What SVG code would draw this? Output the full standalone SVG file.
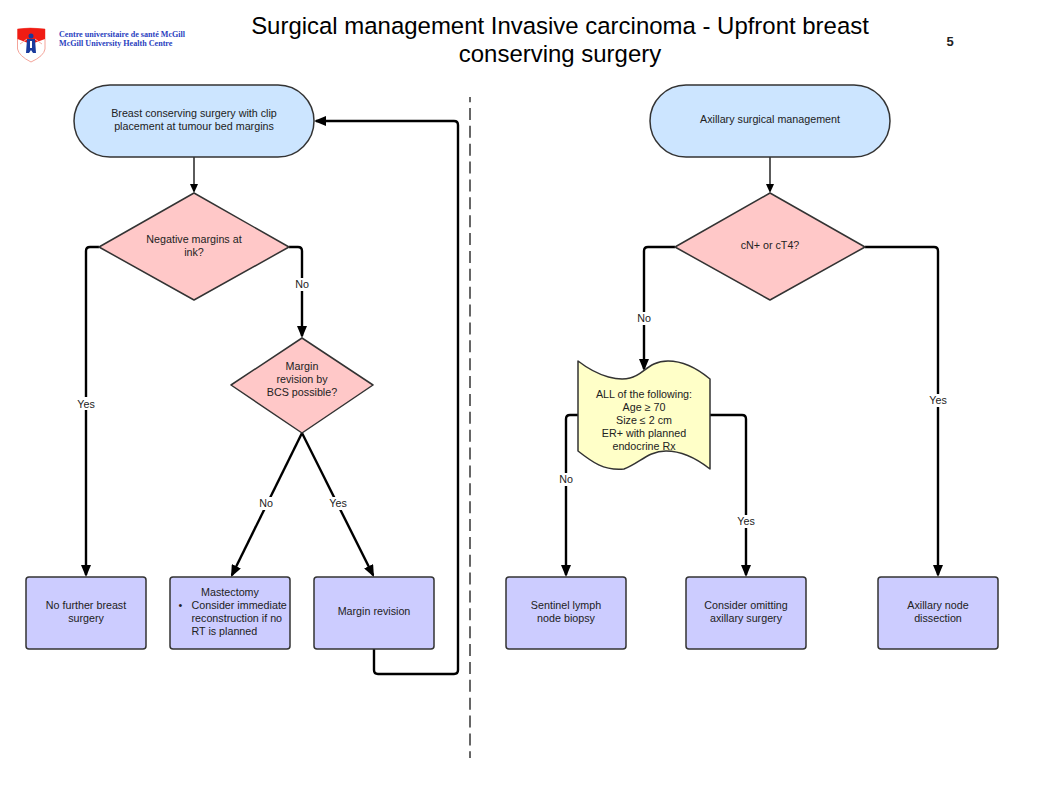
<svg xmlns="http://www.w3.org/2000/svg" width="1038" height="793" viewBox="0 0 1038 793">
<style>
text{font-family:"Liberation Sans",Arial,sans-serif;font-size:10.73px;fill:#222;text-anchor:middle}
.n{stroke:#333;stroke-width:1.5;stroke-linejoin:round}
.t{fill:#cce5ff}.d{fill:#ffc8c8}.b{fill:#ccccff}.y{fill:#ffffc8}
.c{fill:none;stroke:#000;stroke-width:2.4;stroke-linejoin:round}
.c2{fill:none;stroke:#333;stroke-width:1.6}
.lb{fill:#fff;stroke:none}
.l{text-anchor:start}
</style>
<defs>
<marker id="a" viewBox="0 0 12 10" refX="10" refY="5" markerWidth="12" markerHeight="10" orient="auto" markerUnits="userSpaceOnUse"><path d="M0 0L12 5L0 10z" fill="#000"/></marker>
<marker id="s" viewBox="0 0 9 8" refX="7" refY="4" markerWidth="9" markerHeight="8" orient="auto" markerUnits="userSpaceOnUse"><path d="M0 0L9 4L0 8z" fill="#000"/></marker>
</defs>
<rect width="1038" height="793" fill="#fff"/>
<g id="logo">
<path d="M17.500 29L30 28L45 29V49Q44 56 31 62Q19 56 17.500 49z" fill="#fff" stroke="#f4a49a" stroke-width="1"/>
<path d="M17.500 29Q30 27 45 29V39L34 43H28L17.500 39z" fill="#f01c14"/>
<path d="M20 44L27 39M42 44L35 39" stroke="#f5b0a8" stroke-width="1"/>
<circle cx="31" cy="36" r="2.500" fill="#1a3a9c"/>
<path d="M27 39H35L36 53H33L31 50L29 53H26z" fill="#1a3a9c"/>
<path d="M30 41H32V48H30z" fill="#fff"/>
<text x="59" y="37" class="l" style="font-family:'Liberation Serif',serif;font-size:8.100px;font-weight:bold;fill:#2a3fc0">Centre universitaire de santé McGill</text>
<text x="59" y="46" class="l" style="font-family:'Liberation Serif',serif;font-size:8.100px;font-weight:bold;fill:#2a3fc0">McGill University Health Centre</text>
</g>
<g id="title">
<text x="560" y="34" style="font-size:23.96px;fill:#000">Surgical management Invasive carcinoma - Upfront breast</text>
<text x="560" y="62" style="font-size:23.96px;fill:#000">conserving surgery</text>
<text x="950" y="46" style="font-size:13px;font-weight:bold;fill:#222">5</text>
</g>
<g id="connectors">
<path d="M470 97V758" fill="none" stroke="#666" stroke-width="2" stroke-dasharray="12 5.870" stroke-dashoffset="6.870"/>
<path class="c2" d="M194 157V191" marker-end="url(#s)"/>
<path class="c" d="M99 247H90Q86 247 86 251V575" marker-end="url(#a)"/>
<path class="c" d="M289 247H298Q302 247 302 251V336" marker-end="url(#a)"/>
<path class="c" d="M302 433L231.900 575.200" marker-end="url(#a)"/>
<path class="c" d="M302 433L373.100 575.200" marker-end="url(#a)"/>
<path class="c" d="M374 649V670Q374 674 378 674H454Q458 674 458 670V125Q458 121 454 121H316" marker-end="url(#a)"/>
<path class="c2" d="M770 157V191" marker-end="url(#s)"/>
<path class="c" d="M675 247H648Q644 247 644 251V369" marker-end="url(#a)"/>
<path class="c" d="M865 247H934Q938 247 938 251V575" marker-end="url(#a)"/>
<path class="c" d="M578 415H570Q566 415 566 419V575" marker-end="url(#a)"/>
<path class="c" d="M710 415H742Q746 415 746 419V575" marker-end="url(#a)"/>
<rect class="lb" x="76" y="397" width="20" height="13"/><text x="86" y="407.500">Yes</text>
<rect class="lb" x="294" y="278" width="16" height="13"/><text x="302" y="288">No</text>
<rect class="lb" x="258" y="497" width="16" height="13"/><text x="266" y="507">No</text>
<rect class="lb" x="328" y="497" width="20" height="13"/><text x="338" y="507">Yes</text>
<rect class="lb" x="636" y="312" width="16" height="13"/><text x="644" y="322">No</text>
<rect class="lb" x="928" y="394" width="20" height="13"/><text x="938" y="404">Yes</text>
<rect class="lb" x="558" y="473" width="16" height="13"/><text x="566" y="483">No</text>
<rect class="lb" x="736" y="515" width="20" height="13"/><text x="746" y="525">Yes</text>
</g>
<g id="n1"><rect class="n t" x="74" y="85" width="240" height="72" rx="36"/><text x="194" y="117">Breast conserving surgery with clip</text><text x="194" y="130">placement at tumour bed margins</text></g>
<g id="n2"><path class="n d" d="M194 193L289 247L194 300L99 247z"/><text x="194" y="243">Negative margins at</text><text x="194" y="256">ink?</text></g>
<g id="n3"><path class="n d" d="M302 338L373 385L302 433L231 385z"/><text x="302" y="370">Margin</text><text x="302" y="383">revision by</text><text x="302" y="396">BCS possible?</text></g>
<g id="n4"><rect class="n b" x="26" y="577" width="120" height="72" rx="3"/><text x="86" y="609">No further breast</text><text x="86" y="622">surgery</text></g>
<g id="n5"><rect class="n b" x="170" y="577" width="120" height="72" rx="3"/><text x="230" y="596">Mastectomy</text><text x="178.500" y="609" class="l">•</text><text x="191.500" y="609" class="l">Consider immediate</text><text x="191.500" y="622" class="l">reconstruction if no</text><text x="191.500" y="635" class="l">RT is planned</text></g>
<g id="n6"><rect class="n b" x="314" y="577" width="120" height="72" rx="3"/><text x="374" y="615">Margin revision</text></g>
<g id="n7"><rect class="n t" x="650" y="85" width="240" height="72" rx="36"/><text x="770" y="123">Axillary surgical management</text></g>
<g id="n8"><path class="n d" d="M770 193L865 247L770 300L675 247z"/><text x="770" y="249">cN+ or cT4?</text></g>
<g id="n9"><path class="n y" d="M578 361C600 378 620 381 630 378C644 375 648 361 668 361C684 361 698 369 710 379V469C696 458 680 451 666 451C648 451 640 463 624 469C604 471 592 462 578 451z"/><text x="644" y="398">ALL of the following:</text><text x="644" y="411">Age ≥ 70</text><text x="644" y="424">Size ≤ 2 cm</text><text x="644" y="437">ER+ with planned</text><text x="644" y="450">endocrine Rx</text></g>
<g id="n10"><rect class="n b" x="506" y="577" width="120" height="72" rx="3"/><text x="566" y="609">Sentinel lymph</text><text x="566" y="622">node biopsy</text></g>
<g id="n11"><rect class="n b" x="686" y="577" width="120" height="72" rx="3"/><text x="746" y="609">Consider omitting</text><text x="746" y="622">axillary surgery</text></g>
<g id="n12"><rect class="n b" x="878" y="577" width="120" height="72" rx="3"/><text x="938" y="609">Axillary node</text><text x="938" y="622">dissection</text></g>
</svg>
